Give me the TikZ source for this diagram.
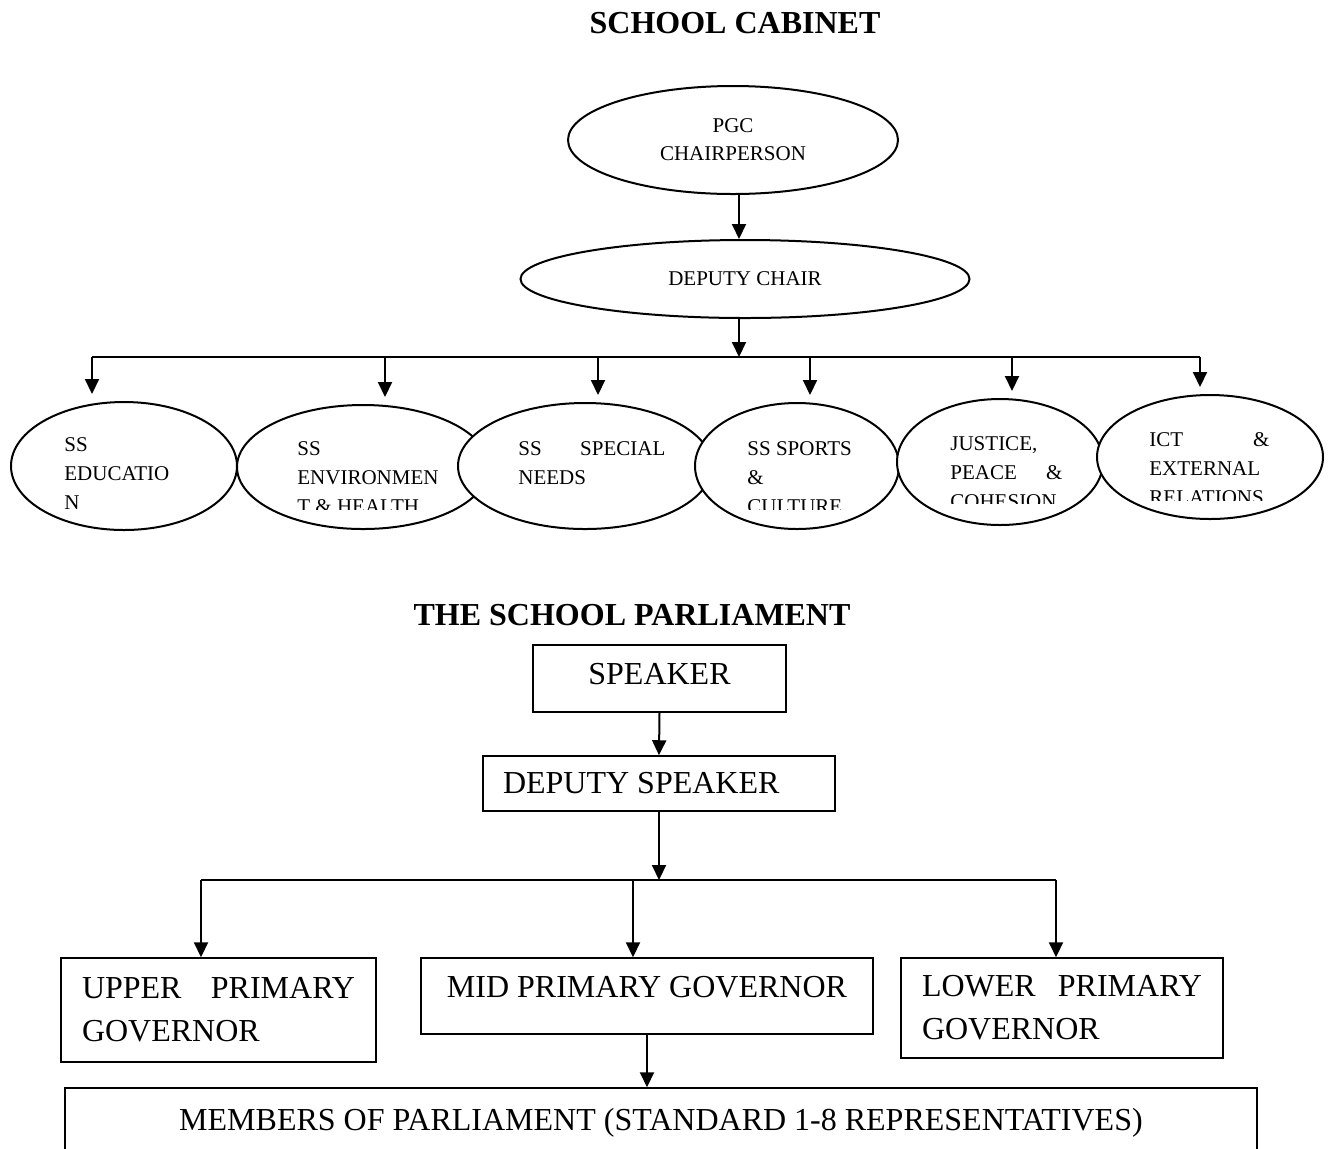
\documentclass[tikz,border=0pt]{standalone}
\usepackage{fontspec}
\setmainfont{Liberation Serif}
\usetikzlibrary{arrows.meta,shapes.geometric}

\tikzset{
  arr/.style={line width=1pt, -{Triangle[width=7pt,length=7.5pt]}},
  bus/.style={line width=1pt},
  office/.style={ellipse, draw, line width=1pt, fill=white, inner sep=0pt, font=\fontsize{10.5}{14}\selectfont},
  subj/.style={anchor=base west, inner sep=0pt, align=flush left, font=\fontsize{10.5}{14.5}\selectfont},
  seat/.style={rectangle, draw, line width=0.75pt, inner sep=0pt, font=\fontsize{16}{21.5}\selectfont},
  title/.style={anchor=base, font=\fontsize{16}{19}\selectfont\bfseries},
}

\begin{document}
\begin{tikzpicture}[x=0.5pt, y=-0.5pt]
\useasboundingbox (0,0) rectangle (1333,1148);

% school cabinet
\node[title] (cabtitle) at (735,33) {SCHOOL CABINET};
\node[office, minimum width=165pt, minimum height=54pt, align=center] (pgc) at (733,140) {PGC\\CHAIRPERSON};
\node[office, minimum width=224.5pt, minimum height=39pt] (dchair) at (745,279) {DEPUTY CHAIR};
\draw[arr] ([xshift=3pt]pgc.south) -- ([xshift=-3pt]dchair.north);

\node[office, minimum width=113pt, minimum height=64pt] (edu) at (124,466) {};
\node[office, minimum width=126pt, minimum height=62pt] (env) at (363,467) {};
\node[office, minimum width=127pt, minimum height=63pt] (needs) at (585,466) {};
\node[office, minimum width=102pt, minimum height=63pt] (sports) at (797,466) {};
\node[office, minimum width=103pt, minimum height=63pt] (justice) at (1000,462) {};
\node[office, minimum width=113pt, minimum height=62pt] (ict) at (1210,457) {};

\begin{scope}
\clip (0,380) rectangle (1333,509);
\node[subj, text width=60pt] (edutxt) at (64,451) {SS\\EDUCATIO\\N};
\node[subj, text width=70pt] (envtxt) at (297,455) {SS\\ENVIRONMEN\\T \& HEALTH};
\node[subj, text width=73.5pt] (needstxt) at (518,455) {SS\hfill SPECIAL\\NEEDS};
\node[subj, text width=60pt] (sportstxt) at (747,455) {SS SPORTS\\\&\\CULTURE};
\end{scope}
\begin{scope}
\clip (0,380) rectangle (1333,503);
\node[subj, text width=56pt] (justtxt) at (950,450) {JUSTICE,\\PEACE\hfill\&\\COHESION};
\end{scope}
\begin{scope}
\clip (0,380) rectangle (1333,500);
\node[subj, text width=60pt] (icttxt) at (1149,446) {ICT\hfill\&\\EXTERNAL\\RELATIONS};
\end{scope}

\coordinate (hub) at (739,357);
\coordinate (c1) at (92,357);
\coordinate (c2) at (385,357);
\coordinate (c3) at (598,357);
\coordinate (c4) at (810,357);
\coordinate (c5) at (1012,357);
\coordinate (c6) at (1200,357);
\draw[arr] ([xshift=-3pt]dchair.south) -- (hub);
\draw[bus] (c1) -- (c6);
\draw[arr, shorten >=3.5pt] (c1) -- (c1 |- edu.north);
\draw[arr, shorten >=3.5pt] (c2) -- (c2 |- env.north);
\draw[arr, shorten >=3.5pt] (c3) -- (c3 |- needs.north);
\draw[arr, shorten >=3.5pt] (c4) -- (c4 |- sports.north);
\draw[arr, shorten >=3.5pt] (c5) -- (c5 |- justice.north);
\draw[arr, shorten >=3.5pt] (c6) -- (c6 |- ict.north);

% school parliament
\node[title] (parltitle) at (632,625) {THE SCHOOL PARLIAMENT};
\node[seat, minimum width=126.5pt, minimum height=33.5pt, text depth=4.3pt] (speaker) at (659.5,678.5) {SPEAKER};
\node[seat, minimum width=176pt, minimum height=27.5pt, text width=156pt, align=flush left] (dspeaker) at (659,783.5) {DEPUTY SPEAKER};
\draw[arr] (speaker.south) -- (dspeaker.north);

\coordinate (g1) at (201,880);
\coordinate (g2) at (633,880);
\coordinate (g3) at (1056,880);
\draw[arr] (dspeaker.south) -- (dspeaker.south |- g1);
\draw[bus] (g1) -- (g3);

\node[seat, minimum width=157.5pt, minimum height=52pt, text width=136.5pt, align=flush left] (upper) at (218.5,1010) {UPPER\hfill PRIMARY\\GOVERNOR};
\node[seat, minimum width=226pt, minimum height=38pt, text depth=8.8pt] (mid) at (647,996) {MID PRIMARY GOVERNOR};
\node[seat, minimum width=161pt, minimum height=50pt, text width=140pt, align=flush left] (lower) at (1062,1008) {LOWER\hfill PRIMARY\\GOVERNOR};
\draw[arr] (g1) -- (g1 |- upper.north);
\draw[arr] (g2) -- (g2 |- mid.north);
\draw[arr] (g3) -- (g3 |- lower.north);

\node[seat, minimum width=596pt, minimum height=46pt, text depth=14.8pt] (members) at (661,1134) {MEMBERS OF PARLIAMENT (STANDARD 1-8 REPRESENTATIVES)};
\draw[arr] (mid.south) -- (mid.south |- members.north);
\end{tikzpicture}
\end{document}
